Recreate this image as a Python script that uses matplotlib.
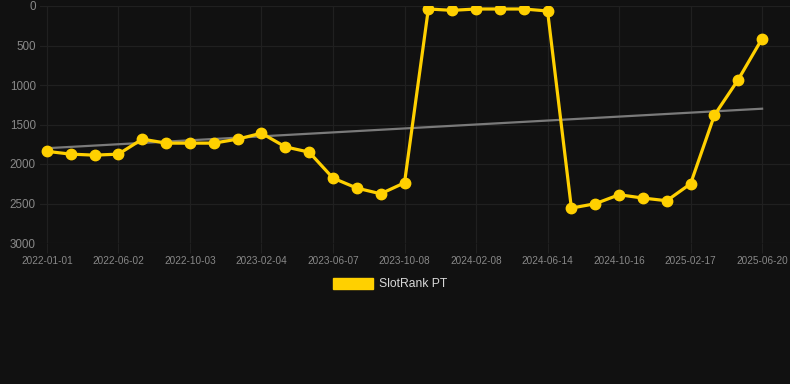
import matplotlib
matplotlib.use("Agg")
import matplotlib.pyplot as plt
from matplotlib.patches import Patch
import numpy as np

# rank values per sampling point (lower is better, axis inverted)
rank_pt = [1840, 1875, 1888, 1875, 1685, 1736, 1736, 1736, 1685, 1610,
           1783, 1850, 2178, 2305, 2377, 2238, 38, 55, 38, 38,
           38, 63, 2558, 2503, 2389, 2431, 2465, 2250, 1382, 931,
           413]
tick_labels = ["2022-01-01", "2022-06-02", "2022-10-03", "2023-02-04",
               "2023-06-07", "2023-10-08", "2024-02-08", "2024-06-14",
               "2024-10-16", "2025-02-17", "2025-06-20"]
trend_ends = [1800, 1300]
y_ticks = [0, 500, 1000, 1500, 2000, 2500, 3000]

bg = "#111111"
yellow = "#ffd000"
label_col = "#888888"
grid_col = "#202020"

plt.rcParams["font.family"] = ["Liberation Sans", "DejaVu Sans"]

fig = plt.figure(figsize=(7.9, 3.84), dpi=100, facecolor=bg)
ax = fig.add_axes([40 / 790, 1 - 243 / 384, 750 / 790, 237 / 384])
ax.set_facecolor(bg)

x = np.arange(len(rank_pt))
ax.plot([x[0], x[-1]], trend_ends, color="#7a7a7a", linewidth=1.6, zorder=2)
ax.plot(x, rank_pt, color=yellow, linewidth=2.3, marker="o", markersize=7.5,
        markerfacecolor=yellow, markeredgecolor=yellow, zorder=3)

ax.set_ylim(3000, 0)
ax.set_xlim(-0.29, len(rank_pt) - 1 + 1.17)
ax.set_yticks(y_ticks)
ax.set_yticklabels([str(v) for v in y_ticks])
ax.set_xticks(x[::3])
ax.set_xticklabels(tick_labels)

ax.tick_params(axis="y", length=0, pad=3, labelsize=8.4, labelcolor=label_col)
ax.tick_params(axis="x", length=7, color=grid_col, pad=2, labelsize=7.2,
               labelcolor=label_col)
ax.grid(True, color=grid_col, linewidth=0.9)
ax.set_axisbelow(True)
for s in ax.spines.values():
    s.set_visible(False)

# legend uses a filled box, like the original chart
fig.legend(handles=[Patch(facecolor=yellow, edgecolor=yellow, label="SlotRank PT")],
           loc="center", bbox_to_anchor=(390 / 790, 1 - 284 / 384), frameon=False,
           handlelength=3.3, handleheight=1.0, handletextpad=0.5,
           fontsize=8.7, labelcolor="#d8d8d8")

fig.savefig("out.png", dpi=100, facecolor=bg)
